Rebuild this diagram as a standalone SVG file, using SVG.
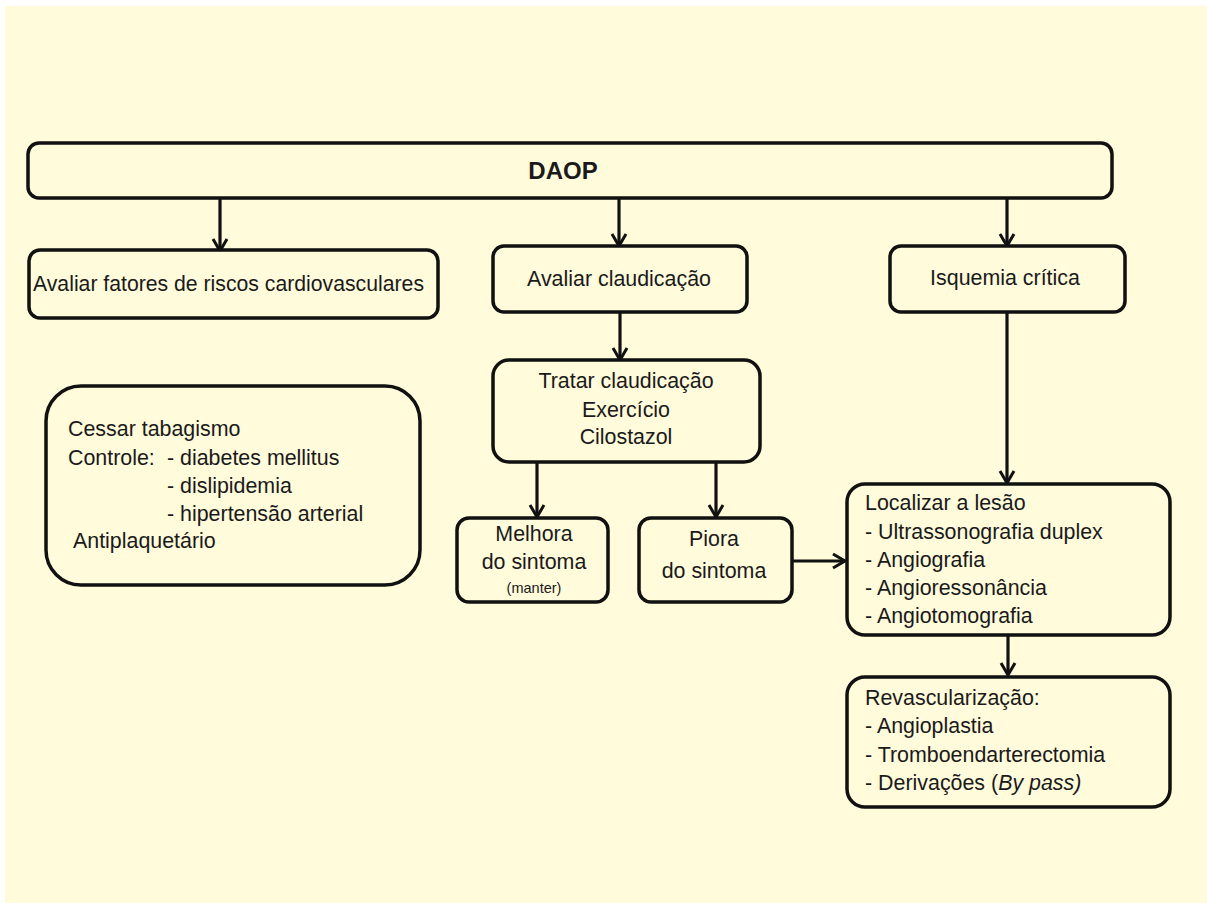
<svg xmlns="http://www.w3.org/2000/svg" width="1207" height="903" viewBox="0 0 1207 903">
<defs>
<style>
.box{fill:#FFFBDB;stroke:#111;stroke-width:3.5}
.t{font-family:"Liberation Sans",Arial,sans-serif;font-size:21.4px;fill:#1a1a1a}
.c{text-anchor:middle}
.conn{stroke:#111;stroke-width:3.2;fill:none}
</style>
<marker id="ah" markerUnits="userSpaceOnUse" markerWidth="20" markerHeight="20" viewBox="-14 -10 16 20" refX="0" refY="0" orient="auto">
<path d="M-12,-7 L0,0 L-12,7" fill="none" stroke="#111" stroke-width="3"/>
</marker>
</defs>
<rect x="0" y="0" width="1207" height="903" fill="#ffffff"/>
<rect x="5" y="6" width="1202" height="897" fill="#FFFBDB"/>

<g id="connectors">
<path class="conn" d="M220,198 V251" marker-end="url(#ah)"/>
<path class="conn" d="M619,198 V246" marker-end="url(#ah)"/>
<path class="conn" d="M1007,198 V246" marker-end="url(#ah)"/>
<path class="conn" d="M620,312 V360" marker-end="url(#ah)"/>
<path class="conn" d="M537,462 V517" marker-end="url(#ah)"/>
<path class="conn" d="M716,462 V517" marker-end="url(#ah)"/>
<path class="conn" d="M1007,312 V483" marker-end="url(#ah)"/>
<path class="conn" d="M792,561 H845" marker-end="url(#ah)"/>
<path class="conn" d="M1008,635 V675" marker-end="url(#ah)"/>
</g>

<g id="daop">
<rect class="box" x="28" y="143" width="1084" height="55" rx="11"/>
<text class="t c" x="563" y="179" style="font-weight:bold;font-size:24px">DAOP</text>
</g>

<g id="avaliar-fatores">
<rect class="box" x="29" y="250" width="409" height="68" rx="11"/>
<text class="t" x="33" y="291" textLength="391" lengthAdjust="spacingAndGlyphs">Avaliar fatores de riscos cardiovasculares</text>
</g>

<g id="avaliar-claudicacao">
<rect class="box" x="493" y="246" width="254" height="66" rx="11"/>
<text class="t c" x="619" y="286">Avaliar claudicação</text>
</g>

<g id="isquemia">
<rect class="box" x="890" y="246" width="235" height="66" rx="11"/>
<text class="t c" x="1005" y="285">Isquemia crítica</text>
</g>

<g id="controle">
<rect class="box" x="46" y="386" width="374" height="199" rx="35"/>
<text class="t" x="68" y="436">Cessar tabagismo</text>
<text class="t" x="68" y="465">Controle:</text>
<text class="t" x="167" y="465">- diabetes mellitus</text>
<text class="t" x="167" y="493">- dislipidemia</text>
<text class="t" x="167" y="521">- hipertensão arterial</text>
<text class="t" x="73" y="548">Antiplaquetário</text>
</g>

<g id="tratar">
<rect class="box" x="493" y="360" width="267" height="102" rx="16"/>
<text class="t c" x="626" y="388">Tratar claudicação</text>
<text class="t c" x="626" y="417">Exercício</text>
<text class="t c" x="626" y="444">Cilostazol</text>
</g>

<g id="melhora">
<rect class="box" x="457" y="518" width="151" height="84" rx="12"/>
<text class="t c" x="534" y="541">Melhora</text>
<text class="t c" x="534" y="569">do sintoma</text>
<text class="t c" x="534" y="593" style="font-size:14.5px">(manter)</text>
</g>

<g id="piora">
<rect class="box" x="639" y="518" width="153" height="84" rx="12"/>
<text class="t c" x="714" y="546">Piora</text>
<text class="t c" x="714" y="578">do sintoma</text>
</g>

<g id="localizar">
<rect class="box" x="847" y="484" width="323" height="151" rx="18"/>
<text class="t" x="865" y="510">Localizar a lesão</text>
<text class="t" x="865" y="539">- Ultrassonografia duplex</text>
<text class="t" x="865" y="567">- Angiografia</text>
<text class="t" x="865" y="595">- Angioressonância</text>
<text class="t" x="865" y="623">- Angiotomografia</text>
</g>

<g id="revascularizacao">
<rect class="box" x="847" y="677" width="323" height="130" rx="18"/>
<text class="t" x="865" y="705">Revascularização:</text>
<text class="t" x="865" y="733">- Angioplastia</text>
<text class="t" x="865" y="762">- Tromboendarterectomia</text>
<text class="t" x="865" y="790">- Derivações (<tspan font-style="italic">By pass)</tspan></text>
</g>
</svg>
